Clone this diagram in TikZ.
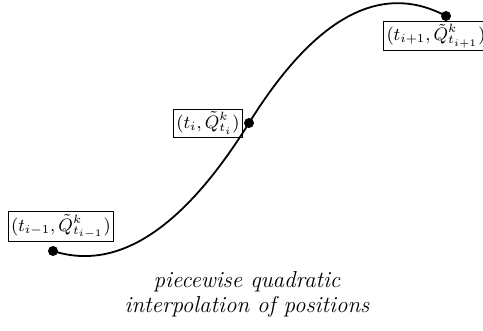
\documentclass[tikz,border=0pt]{standalone}
\begin{document}
\begin{tikzpicture}[x=0.5pt,y=-0.5pt,
  lbl/.style={draw,line width=0.4pt,inner sep=1.4pt,font=\fontsize{8.7}{10.5}\selectfont},
  dotm/.style={circle,fill=black,inner sep=0pt,minimum size=5pt},
  curve/.style={line width=0.9pt}]
\useasboundingbox (0,0) rectangle (483,331);
\node[dotm] (p0) at (53,251) {};
\node[dotm] (p1) at (249,123) {};
\node[dotm] (p2) at (446,16) {};
\coordinate (c1) at (117.67,271.67);
\coordinate (c2) at (183,229);
\coordinate (c3) at (315,17);
\coordinate (c4) at (380.67,-18.67);
\draw[curve] (p0.center) .. controls (c1) and (c2) .. (p1.center)
  .. controls (c3) and (c4) .. (p2.center);
\node[lbl] (l0) at (61,226.5) {$(t_{i-1},\tilde{Q}^k_{t_{i-1}})$};
\node[lbl] (l1) at (208,123) {$(t_{i},\tilde{Q}^k_{t_{i}})$};
\node[lbl] (l2) at (436,36) {$(t_{i+1},\tilde{Q}^k_{t_{i+1}})$};
\node[align=center,font=\fontsize{11.5}{12.5}\selectfont\itshape] (cap) at (247,294) {piecewise quadratic\\interpolation of positions};
\end{tikzpicture}
\end{document}
